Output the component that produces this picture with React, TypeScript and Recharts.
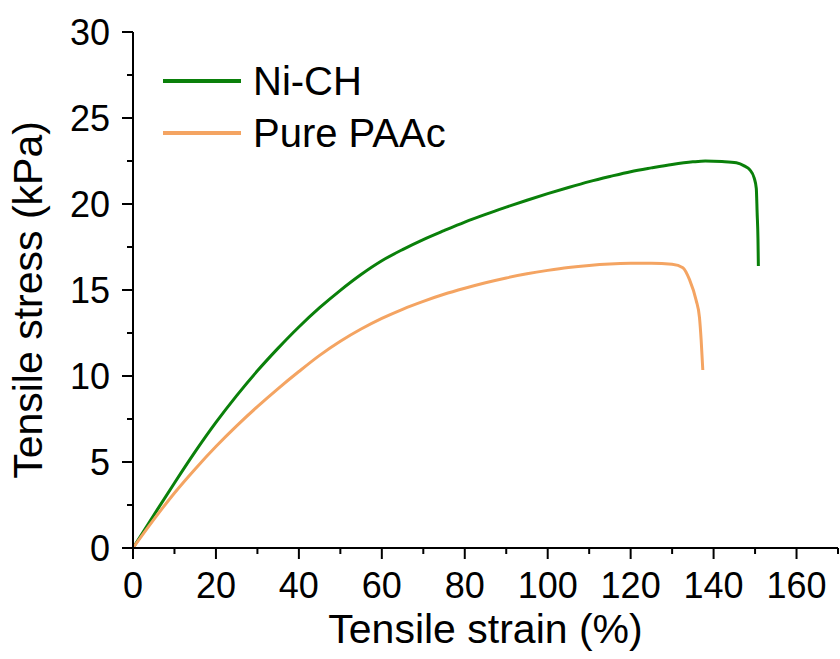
import { LineChart, Line, XAxis, YAxis, Legend } from "recharts"

const FONT = "Arial, 'Liberation Sans', sans-serif"

// Ni-CH hydrogel
const niStrain = [0, 5, 10, 15, 20, 25, 30, 35, 40, 45, 50, 55, 60, 65, 70, 75, 80, 85, 90, 95, 100, 105, 110, 115, 120, 125, 130, 135, 138, 142, 145.5, 147.5, 148.7, 149.8, 150.3, 150.5, 150.7, 150.8]
const niStress = [0, 1.9, 3.78, 5.6, 7.3, 8.86, 10.3, 11.62, 12.85, 13.97, 14.98, 15.9, 16.7, 17.35, 17.93, 18.45, 18.95, 19.4, 19.82, 20.22, 20.6, 20.96, 21.3, 21.6, 21.88, 22.1, 22.3, 22.45, 22.5, 22.47, 22.4, 22.2, 22.0, 21.5, 20.9, 19.5, 18.0, 16.4]

// Pure PAAc
const paStrain = [0, 5, 10, 15, 20, 25, 30, 35, 40, 45, 50, 55, 60, 65, 70, 75, 80, 85, 90, 95, 100, 105, 110, 115, 120, 125, 130, 132.6, 134.2, 135.8, 136.6, 137.0, 137.4]
const paStress = [0, 1.65, 3.2, 4.6, 5.9, 7.1, 8.22, 9.27, 10.26, 11.2, 12.02, 12.73, 13.35, 13.88, 14.34, 14.75, 15.1, 15.42, 15.7, 15.94, 16.14, 16.31, 16.43, 16.51, 16.55, 16.56, 16.5, 16.3, 15.6, 14.4, 13.4, 12.1, 10.35]

const xTicks = [0, 10, 20, 30, 40, 50, 60, 70, 80, 90, 100, 110, 120, 130, 140, 150, 160, 170]
const yTicks = [0, 2.5, 5, 7.5, 10, 12.5, 15, 17.5, 20, 22.5, 25, 27.5, 30]

const series = [
  { name: "Ni-CH", color: "#0a800a", data: niStrain.map((x, i) => ({ x, y: niStress[i] })) },
  { name: "Pure PAAc", color: "#f4a462", data: paStrain.map((x, i) => ({ x, y: paStress[i] })) },
]

function XTick({ x, y, payload }: any) {
  const v = payload.value
  const major = v % 20 === 0 && v <= 160
  return (
    <g>
      <line x1={x} y1={y} x2={x} y2={y + (major ? 11 : 6)} stroke="#000" strokeWidth={2} />
      {major && (
        <text x={x} y={y + 50} textAnchor="middle" fontSize={36} fontFamily={FONT} fill="#000">
          {v}
        </text>
      )}
    </g>
  )
}

function YTick({ x, y, payload }: any) {
  const v = payload.value
  const major = v % 5 === 0
  return (
    <g>
      <line x1={x} y1={y} x2={x - (major ? 11 : 6)} y2={y} stroke="#000" strokeWidth={2} />
      {major && (
        <text x={x - 23} y={y + 13} textAnchor="end" fontSize={36} fontFamily={FONT} fill="#000">
          {v}
        </text>
      )}
    </g>
  )
}

const renderLegend = () => (
  <div style={{ fontFamily: FONT, fontSize: 40, color: "#000" }}>
    {series.map((s) => (
      <div key={s.name} style={{ display: "flex", alignItems: "center", height: 52, whiteSpace: "nowrap" }}>
        <span style={{ display: "inline-block", width: 78, height: 4, background: s.color, marginRight: 12 }} />
        {s.name}
      </div>
    ))}
  </div>
)

export default function App() {
  return (
    <div style={{ position: "absolute", left: 0, top: 0, background: "#fff" }}>
      <LineChart width={840} height={659} margin={{ top: 32, right: 2, bottom: 0, left: 0 }}>
        <XAxis
          dataKey="x"
          type="number"
          domain={[0, 170]}
          ticks={xTicks}
          interval={0}
          height={111}
          tickSize={0}
          tickMargin={0}
          tickLine={false}
          tick={<XTick />}
          axisLine={{ stroke: "#000", strokeWidth: 2 }}
          label={{
            content: ({ viewBox }: any) => (
              <text x={viewBox.x + viewBox.width / 2} y={643} textAnchor="middle" fontSize={41} fontFamily={FONT} fill="#000">
                Tensile strain (%)
              </text>
            ),
          }}
        />
        <XAxis xAxisId="top" orientation="top" type="number" domain={[0, 170]} height={0} tick={false} tickLine={false} axisLine={{ stroke: "#000", strokeWidth: 2 }} />
        <YAxis
          type="number"
          domain={[0, 30]}
          ticks={yTicks}
          interval={0}
          width={133}
          tickSize={0}
          tickMargin={0}
          tickLine={false}
          tick={<YTick />}
          axisLine={{ stroke: "#000", strokeWidth: 2 }}
          label={{
            content: () => (
              <text x={42} y={300} transform="rotate(-90 42 300)" textAnchor="middle" fontSize={41} fontFamily={FONT} fill="#000">
                Tensile stress (kPa)
              </text>
            ),
          }}
        />
        <YAxis yAxisId="right" orientation="right" type="number" domain={[0, 30]} width={0} tick={false} tickLine={false} axisLine={{ stroke: "#000", strokeWidth: 2 }} />
        <Legend
          layout="vertical"
          align="center"
          verticalAlign="middle"
          content={renderLegend}
          wrapperStyle={{ left: 163, top: 55, width: "auto" }}
        />
        {series.map((s) => (
          <Line
            key={s.name}
            data={s.data}
            dataKey="y"
            name={s.name}
            type="monotone"
            stroke={s.color}
            strokeWidth={3}
            dot={false}
            isAnimationActive={false}
          />
        ))}
      </LineChart>
    </div>
  )
}
